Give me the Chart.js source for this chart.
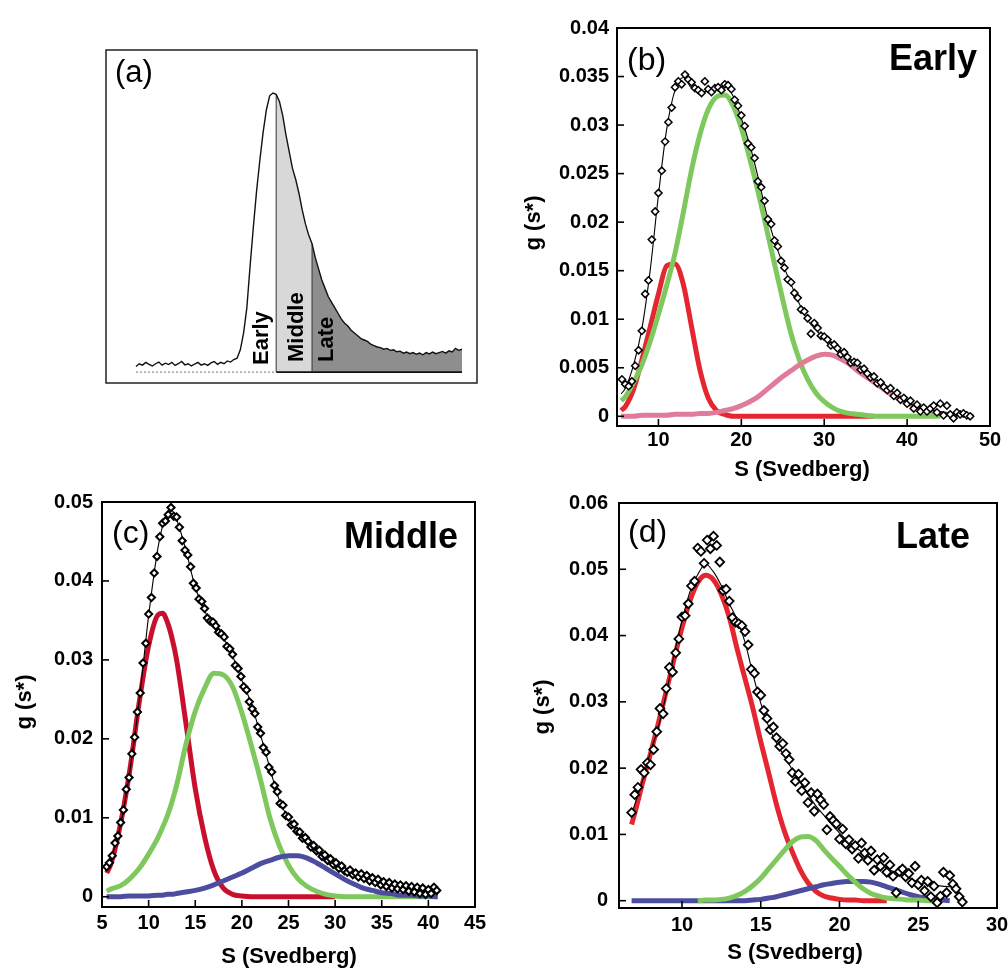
<!DOCTYPE html>
<html>
<head>
<meta charset="utf-8">
<script src="https://cdn.jsdelivr.net/npm/chart.js@4.4.0/dist/chart.umd.min.js"></script>
<style>
  html, body { margin: 0; padding: 0; background: #fff; overflow: hidden; }
  .panel { position: absolute; }
</style>
</head>
<body>
<div class="panel" style="left:100px;top:40px;width:390px;height:350px"><canvas id="chartA"></canvas></div>
<div class="panel" style="left:510px;top:0px;width:498px;height:490px"><canvas id="chartB"></canvas></div>
<div class="panel" style="left:0px;top:480px;width:500px;height:490px"><canvas id="chartC"></canvas></div>
<div class="panel" style="left:510px;top:480px;width:510px;height:490px"><canvas id="chartD"></canvas></div>
<script>
const FONT = "'Liberation Sans', Arial, Helvetica, sans-serif";
Chart.defaults.font.family = FONT;

// ---- panel (a): sedimentation trace, split into Early / Middle / Late
const aStart = 0, aStep = 1;
const aTrace = [0.02, 0.03, 0.025, 0.035, 0.028, 0.022, 0.03, 0.036, 0.025, 0.032,
  0.027, 0.035, 0.024, 0.03, 0.038, 0.026, 0.03, 0.022, 0.029, 0.035,
  0.025, 0.03, 0.024, 0.033, 0.038, 0.028, 0.035, 0.03, 0.04, 0.036,
  0.045, 0.05, 0.08, 0.14, 0.23, 0.38, 0.52, 0.65, 0.76, 0.86,
  0.94, 0.99, 1.0, 0.995, 0.97, 0.92, 0.85, 0.79, 0.73, 0.69,
  0.64, 0.58, 0.53, 0.49, 0.46, 0.41, 0.37, 0.33, 0.3, 0.27,
  0.25, 0.23, 0.21, 0.19, 0.175, 0.165, 0.15, 0.14, 0.13, 0.12,
  0.115, 0.11, 0.1, 0.095, 0.09, 0.088, 0.082, 0.085, 0.078, 0.08,
  0.073, 0.075, 0.068, 0.072, 0.066, 0.07, 0.064, 0.068, 0.062, 0.07,
  0.065, 0.072, 0.066, 0.07, 0.074, 0.068, 0.076, 0.072, 0.085, 0.078, 0.082];
const aEarlyEnd = 43, aMiddleEnd = 54;
const aLabels = ['Early', 'Middle', 'Late'];

// ---- panel (b): Early
const bGrid = [5.5, 6, 7, 8, 9, 10, 11, 12, 13, 14, 15, 16, 17, 18, 19, 20, 21, 22, 23, 24, 25, 26,
  27, 28, 29, 30, 31, 32, 33, 34, 35, 36, 37, 38, 39, 40, 41, 42, 43, 44, 45, 46, 47, 48];
const bFit = [.0023, .0029, .0053, .009, .015, .0228, .0296, .0336, .0349, .0338, .0334, .0335, .0338, .034,
  .033, .0307, .028, .0247, .021, .0181, .0157, .0136, .0116, .0099, .0089, .008, .0073, .0066, .0059, .0053,
  .0046, .0039, .0032, .0027, .002, .0015, .001, .0007, .0006, .0005, .0003, .0003, .0002, .0001];
const bRed = [.0006, .001, .0028, .0058, .0092, .0126, .0155, .0157, .0136, .0092, .0048, .0019, .0006, .0002,
  0, 0, 0, 0, 0, 0, 0, 0, 0, 0, 0, 0, 0, 0, 0, 0, 0, 0,
  null, null, null, null, null, null, null, null, null, null, null, null];
const bGreen = [.0016, .002, .0035, .0053, .0077, .0105, .0135, .0168, .021, .0254, .029, .0316, .0329, .0331,
  .032, .0297, .0266, .0232, .0195, .0157, .012, .0085, .0058, .0038, .0024, .0015, .0009, .0005, .0003, .0002,
  .0001, 0, 0, 0, 0, 0, 0, 0, 0, 0, null, null, null, null];
const bPink = [0, 0, 0, .0001, .0001, .0001, .0001, .0002, .0002, .0002, .0003, .0003, .0004, .0006,
  .0008, .0011, .0015, .002, .0027, .0034, .0041, .0047, .0053, .0058, .0062, .0064, .0063, .0059, .0054, .0047,
  .0041, .0035, .0029, .0023, .0018, .0014, .001, .0007, .0005, .0003, .0002, .0001, .0001, 0];
const bDiaStart = 5.6, bDiaStep = 0.4;
const bDia = [.0038, .0033, .0031, .0036, .0052, .0068, .0088, .0126, .014, .0182,
  .0211, .023, .0253, .0283, .0303, .0318, .0339, .0345, .0342, .0352,
  .0347, .0344, .0338, .0336, .0333, .0345, .0337, .0334, .0338, .0339,
  .0336, .0342, .0341, .0337, .0326, .032, .031, .0299, .0281, .0277,
  .0266, .0242, .0236, .0222, .0203, .0198, .0181, .0175, .016, .0153,
  .0141, .0138, .0127, .0122, .011, .0108, .0101, .0085, .0096, .0091,
  .0083, .0082, .0079, .0073, .0074, .007, .0064, .0066, .0061, .0055,
  .0056, .0055, .0048, .0049, .0044, .004, .0041, .0034, .0035, .003,
  .0027, .0029, .0021, .0024, .0017, .0019, .0013, .0016, .0008, .0012,
  .0005, .0009, .0005, .0008, .0011, .0004, .0013, .0001, .0011, .0002,
  -.0002, .0004, .0002, .0003, .0001, 0];
const bXTicks = [10, 20, 30, 40, 50];
const bYTicks = [0, 0.005, 0.01, 0.015, 0.02, 0.025, 0.03, 0.035, 0.04];

// ---- panel (c): Middle
const cGrid = [5.5, 6, 7, 8, 9, 10, 11, 11.5, 12, 12.5, 13, 14, 15, 16, 17, 18, 19, 20, 21, 22, 23, 24, 25,
  26, 27, 28, 29, 30, 31, 32, 33, 34, 35, 36, 37, 38, 39, 40, 41];
const cFit = [.0036, .005, .0091, .016, .0249, .0356, .0442, .047, .0487, .0489, .0478, .0439, .0392, .0362,
  .0343, .0328, .0305, .0274, .0245, .0205, .0163, .0123, .0099, .0083, .007, .0059, .0049, .0041, .0034,
  .0029, .0025, .0021, .0017, .0014, .0012, .001, .0008, .0007, .0006];
const cRed = [.003, .0043, .0093, .0162, .0247, .0318, .0357, .0359, .0348, .0328, .03, .022, .0137, .0076,
  .0033, .0011, .0003, .0001, 0, 0, 0, 0, 0, 0, 0, 0, 0, 0,
  null, null, null, null, null, null, null, null, null, null, null];
const cGreen = [.0007, .001, .0014, .0023, .0036, .0054, .0075, .0088, .0102, .012, .0141, .0193, .0235, .0264,
  .0283, .0281, .0266, .0233, .0192, .0148, .01, .0065, .004, .0023, .0013, .0007, .0003, .0001,
  0, 0, 0, 0, 0, 0, 0, 0, 0, 0, 0];
const cBlue = [0, 0, 0, .0001, .0001, .0001, .0002, .0002, .0003, .0003, .0004, .0006, .0008, .0011,
  .0015, .002, .0025, .003, .0036, .0042, .0046, .005, .0052, .0052, .0049, .0043, .0036, .0029, .0022,
  .0016, .0011, .0008, .0005, .0004, .0002, .0002, .0001, .0001, 0];
const cDiaStart = 5.5, cDiaStep = 0.3;
const cDia = [.0038, .0043, .0052, .0068, .0077, .0094, .011, .0136, .0151, .0181,
  .0202, .0234, .0258, .0296, .0321, .0358, .0379, .041, .0431, .0456,
  .0473, .0476, .0484, .0493, .0482, .0481, .0468, .0451, .0439, .0433,
  .0418, .0397, .0391, .0377, .0374, .0365, .0353, .0349, .0348, .0343,
  .0335, .0333, .0329, .0317, .0314, .0307, .0293, .0289, .0279, .0266,
  .0262, .0247, .0238, .0232, .0215, .0207, .0189, .0183, .0164, .0158,
  .0141, .0133, .0118, .0116, .0103, .0101, .0091, .0092, .0083, .0082,
  .0074, .0075, .007, .0063, .0065, .0058, .0059, .0051, .0053, .0046,
  .0048, .0041, .0043, .0036, .0039, .0033, .0031, .0034, .0028, .003,
  .0025, .0029, .0023, .0027, .002, .0024, .0018, .0022, .0015, .0019,
  .0013, .0018, .0011, .0016, .001, .0015, .0009, .0014, .0007, .0013,
  .0006, .0012, .0004, .0011, .0003, .0009, .0004, .0012, .0008];
const cXTicks = [5, 10, 15, 20, 25, 30, 35, 40, 45];
const cYTicks = [0, 0.01, 0.02, 0.03, 0.04, 0.05];

// ---- panel (d): Late
const dGrid = [6.8, 7, 7.5, 8, 8.5, 9, 9.5, 10, 10.5, 11, 11.5, 12, 12.5, 13, 13.5, 14, 14.5, 15, 15.5, 16,
  16.5, 17, 17.5, 18, 18.5, 19, 19.5, 20, 20.5, 21, 21.5, 22, 22.5, 23, 23.5, 24, 24.5, 25, 25.5, 26, 26.5, 27, 27.5];
const dFit = [.0132, .0145, .0182, .0225, .0262, .0312, .0372, .0422, .0466, .0492, .0508, .0496, .0475, .0448,
  .0424, .039, .0342, .0298, .0263, .0238, .0218, .0198, .018, .016, .0143, .0129, .0115, .0102, .0091, .0081,
  .0072, .0064, .0056, .0049, .0043, .0038, .0033, .0029, .0026, .0024, .0022, .0021, .002];
const dRed = [.0115, .0132, .0178, .0222, .0268, .0316, .0365, .0412, .0452, .048, .0491, .0484, .0462, .0428,
  .038, .0335, .029, .024, .0193, .0145, .0105, .0074, .0047, .0027, .0014, .0007, .0004, .0002, .0001, .0001,
  0, 0, 0, 0, null, null, null, null, null, null, null, null, null];
const dGreen = [null, null, null, null, null, null, null, null, null, 0, .0001, .0001, .0002, .0004,
  .0008, .0014, .0023, .0034, .0048, .0062, .0076, .0089, .0096, .0097, .0091, .0077, .0064, .0052, .0039, .0028,
  .0018, .0011, .0007, .0004, .0003, .0002, .0001, .0001, 0, 0, null, null, null];
const dBlue = [0, 0, 0, 0, 0, 0, 0, 0, 0, 0, 0, 0, 0, 0, 0, 0, .0001, .0002, .0004, .0006,
  .0009, .0012, .0015, .0018, .0021, .0024, .0026, .0028, .0029, .0029, .0029, .0028, .0025, .0021, .0017, .0013,
  .0009, .0006, .0004, .0002, .0001, 0, null];
const dDiaStart = 6.8, dDiaStep = 0.2;
const dDia = [.0133, .016, .0171, .0198, .0193, .0208, .0205, .0228, .0255, .029,
  .0282, .032, .0352, .0345, .0374, .0395, .0428, .043, .0448, .0475,
  .0482, .0532, .0527, .0509, .0544, .0531, .055, .0536, .0511, .0468,
  .047, .0452, .0427, .042, .0418, .0415, .0406, .0386, .0349, .0343,
  .0315, .031, .0287, .0275, .0258, .0262, .0246, .0233, .0237, .0222,
  .0213, .0193, .018, .0191, .0166, .0178, .0148, .0163, .0135, .0161,
  .0152, .0145, .0107, .0127, .0121, .0116, .0093, .0108, .0086, .0092,
  .0078, .0083, .0064, .0087, .0072, .0061, .0075, .0046, .0062, .0052,
  .0065, .0043, .0054, .0037, .0012, .0044, .0048, .0036, .0041, .0027,
  .0052, .0024, .0031, .0015, .0029, .0006, .0022, -.0003, .0007, .0043,
  .0012, .0038, .0025, .0018, .0006, -.0002];
const dXTicks = [10, 15, 20, 25, 30];
const dYTicks = [0, 0.01, 0.02, 0.03, 0.04, 0.05, 0.06];

const RED = '#e3262f', CRIMSON = '#c8102e', GREEN = '#7ec85e', PINK = '#e07b99', BLUE = '#4d4d9f';

function grid(start, step, n) {
  return Array.from({length: n}, (_, i) => +(start + i * step).toFixed(3));
}
function pairs(xs, ys) {
  const out = [];
  ys.forEach((y, i) => { if (y !== null) out.push({x: xs[i], y: y}); });
  return out;
}

// frame, inward ticks and free text
const panelDeco = {
  id: 'panelDeco',
  afterDraw(chart, args, o) {
    const ctx = chart.ctx, a = chart.chartArea;
    ctx.save();
    ctx.strokeStyle = o.frameColor;
    ctx.lineWidth = o.frameWidth;
    ctx.strokeRect(a.left, a.top, a.right - a.left, a.bottom - a.top);
    if (o.ticks) {
      ctx.lineWidth = 1.6;
      const xs = chart.scales.x, ys = chart.scales.y;
      xs.ticks.forEach(t => {
        const p = xs.getPixelForValue(t.value);
        ctx.beginPath(); ctx.moveTo(p, a.bottom); ctx.lineTo(p, a.bottom - 7); ctx.stroke();
      });
      ys.ticks.forEach(t => {
        const p = ys.getPixelForValue(t.value);
        ctx.beginPath(); ctx.moveTo(a.left, p); ctx.lineTo(a.left + 7, p); ctx.stroke();
      });
    }
    ctx.fillStyle = '#000';
    o.texts.forEach(t => {
      ctx.save();
      ctx.font = t.font;
      ctx.textAlign = t.align || 'left';
      ctx.textBaseline = t.baseline || 'alphabetic';
      ctx.translate(t.x, t.y);
      if (t.rotate) ctx.rotate(t.rotate);
      ctx.fillText(t.text, 0, 0);
      ctx.restore();
    });
    ctx.restore();
  }
};

// ---- chart (a)
const aX = grid(aStart, aStep, aTrace.length);
const aPts = pairs(aX, aTrace);
const yAt = x => aTrace[aX.indexOf(x)];
const lineDs = (data, color, width, extra) => Object.assign({
  data: data, borderColor: color, borderWidth: width, pointRadius: 0, fill: false
}, extra || {});

new Chart(document.getElementById('chartA'), {
  type: 'line',
  data: { datasets: [
    lineDs(aPts, '#111', 1.4, {order: 0}),
    lineDs([{x: aEarlyEnd, y: 0}, {x: aEarlyEnd, y: yAt(aEarlyEnd)}], '#333', 1, {order: 1}),
    lineDs([{x: aMiddleEnd, y: 0}, {x: aMiddleEnd, y: yAt(aMiddleEnd)}], '#333', 1, {order: 1}),
    lineDs([{x: aX[0], y: 0}, {x: aEarlyEnd, y: 0}], '#777', 1, {borderDash: [2, 2], order: 2}),
    lineDs([{x: aEarlyEnd, y: 0}, {x: aX[aX.length - 1], y: 0}], '#111', 1.6, {order: 2}),
    lineDs(aPts.filter(p => p.x >= aEarlyEnd && p.x <= aMiddleEnd), 'rgba(0,0,0,0)', 0,
      {fill: 'origin', backgroundColor: '#d8d8d8', order: 5}),
    lineDs(aPts.filter(p => p.x >= aMiddleEnd), 'rgba(0,0,0,0)', 0,
      {fill: 'origin', backgroundColor: '#8e8e8e', order: 6})
  ]},
  options: {
    responsive: true, maintainAspectRatio: false, animation: false, events: [],
    layout: { padding: { left: 6, top: 10, right: 13, bottom: 7 } },
    scales: {
      x: { type: 'linear', min: -9.2, max: 104.6, display: false },
      y: { type: 'linear', min: -0.039, max: 1.154, display: false }
    },
    plugins: {
      legend: { display: false }, tooltip: { enabled: false },
      panelDeco: {
        frameColor: '#222', frameWidth: 1.5, ticks: false,
        texts: [
          { text: '(a)', x: 15, y: 42, font: '31px ' + FONT },
          { text: aLabels[0], x: 168, y: 325, font: 'bold 22px ' + FONT, rotate: -Math.PI / 2 },
          { text: aLabels[1], x: 203, y: 322, font: 'bold 22px ' + FONT, rotate: -Math.PI / 2 },
          { text: aLabels[2], x: 233, y: 322, font: 'bold 22px ' + FONT, rotate: -Math.PI / 2 }
        ]
      }
    }
  },
  plugins: [panelDeco]
});

// ---- charts (b), (c), (d)
function makePanel(id, p) {
  const datasets = p.curves.map(c => lineDs(pairs(p.grid, c.values), c.color, 5,
    {cubicInterpolationMode: 'monotone', order: c.order}));
  datasets.push(lineDs(pairs(p.grid, p.fit), '#000', 1.1, {cubicInterpolationMode: 'monotone', order: 1}));
  datasets.push({
    data: pairs(grid(p.diaStart, p.diaStep, p.dia.length), p.dia),
    showLine: false, pointStyle: 'rectRot', pointRadius: p.diaR, pointBorderWidth: p.diaW,
    pointBackgroundColor: '#fff', pointBorderColor: '#000', order: 0
  });
  const tickFont = { family: FONT, size: 20, weight: 'bold' };
  new Chart(document.getElementById(id), {
    type: 'line',
    data: { datasets: datasets },
    options: {
      responsive: true, maintainAspectRatio: false, animation: false, events: [],
      layout: { padding: { left: 0, top: p.padTop, right: p.padRight, bottom: 0 } },
      scales: {
        x: {
          type: 'linear', min: p.xMin, max: p.xMax,
          afterBuildTicks: ax => { ax.ticks = p.xTicks.map(v => ({value: v})); },
          afterFit: s => { s.height = p.xAxisH; },
          grid: { display: false, drawTicks: false }, border: { display: false },
          ticks: { font: tickFont, color: '#000', padding: p.xTickPad, maxRotation: 0, autoSkip: false,
            callback: v => String(v) }
        },
        y: {
          type: 'linear', min: p.yMin, max: p.yMax,
          afterBuildTicks: ax => { ax.ticks = p.yTicks.map(v => ({value: v})); },
          afterFit: s => { s.width = p.yAxisW; },
          grid: { display: false, drawTicks: false }, border: { display: false },
          ticks: { font: tickFont, color: '#000', padding: p.yTickPad, autoSkip: false,
            callback: v => String(v) }
        }
      },
      plugins: {
        legend: { display: false }, tooltip: { enabled: false },
        panelDeco: { frameColor: '#000', frameWidth: 2, ticks: true, texts: p.texts }
      }
    },
    plugins: [panelDeco]
  });
}

const titleFont = 'bold 22px ' + FONT;
function texts(letter, lx, ly, name, nx, ny, xt, yt) {
  return [
    { text: letter, x: lx, y: ly, font: '32px ' + FONT },
    { text: name, x: nx, y: ny, font: 'bold 36px ' + FONT, align: 'right' },
    { text: 'S (Svedberg)', x: xt[0], y: xt[1], font: titleFont, align: 'center', baseline: 'middle' },
    { text: 'g (s*)', x: yt[0], y: yt[1], font: titleFont, align: 'center', baseline: 'middle', rotate: -Math.PI / 2 }
  ];
}

makePanel('chartB', {
  grid: bGrid, fit: bFit,
  curves: [{values: bRed, color: RED, order: 4}, {values: bGreen, color: GREEN, order: 3}, {values: bPink, color: PINK, order: 2}],
  dia: bDia, diaStart: bDiaStart, diaStep: bDiaStep, diaR: 3.6, diaW: 1.5,
  xMin: 5, xMax: 50, yMin: -0.001, yMax: 0.04, xTicks: bXTicks, yTicks: bYTicks,
  padTop: 28, padRight: 18, yAxisW: 107, xAxisH: 64, xTickPad: 2, yTickPad: 8,
  texts: texts('(b)', 117, 70, 'Early', 467, 70, [292, 470], [24, 223])
});

makePanel('chartC', {
  grid: cGrid, fit: cFit,
  curves: [{values: cRed, color: CRIMSON, order: 4}, {values: cGreen, color: GREEN, order: 3}, {values: cBlue, color: BLUE, order: 2}],
  dia: cDia, diaStart: cDiaStart, diaStep: cDiaStep, diaR: 3.6, diaW: 2,
  xMin: 5, xMax: 45, yMin: -0.0013, yMax: 0.05, xTicks: cXTicks, yTicks: cYTicks,
  padTop: 22, padRight: 25, yAxisW: 102, xAxisH: 63, xTickPad: 4, yTickPad: 9,
  texts: texts('(c)', 112, 63, 'Middle', 458, 68, [289, 477], [25, 222])
});

makePanel('chartD', {
  grid: dGrid, fit: dFit,
  curves: [{values: dRed, color: RED, order: 4}, {values: dBlue, color: BLUE, order: 3}, {values: dGreen, color: GREEN, order: 2}],
  dia: dDia, diaStart: dDiaStart, diaStep: dDiaStep, diaR: 4.4, diaW: 1.8,
  xMin: 6, xMax: 30, yMin: -0.0011, yMax: 0.06, xTicks: dXTicks, yTicks: dYTicks,
  padTop: 23, padRight: 23, yAxisW: 109, xAxisH: 62, xTickPad: 5, yTickPad: 11,
  texts: texts('(d)', 118, 62, 'Late', 460, 68, [285, 473], [33, 227])
});
</script>
</body>
</html>
